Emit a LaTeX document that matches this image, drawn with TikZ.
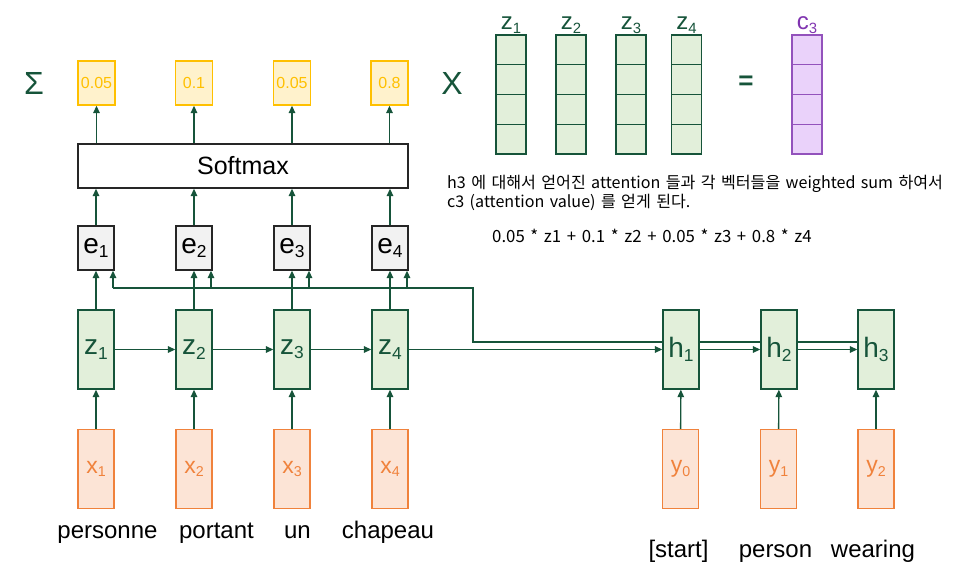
\documentclass[tikz,border=0pt]{standalone}
\usepackage{fontspec}
\setmainfont{Liberation Sans}
\newfontfamily\krfont{Noto Sans CJK KR}
\newfontfamily\krwide[WordSpace=1.5]{Noto Sans CJK KR}
\usetikzlibrary{arrows.meta,positioning}

\definecolor{encgreen}{RGB}{22,84,58}
\definecolor{encfill}{RGB}{226,239,218}
\definecolor{attnyellow}{RGB}{255,192,0}
\definecolor{attnfill}{RGB}{255,242,204}
\definecolor{wordorange}{RGB}{240,130,60}
\definecolor{wordfill}{RGB}{252,228,214}
\definecolor{ctxpurple}{RGB}{128,52,176}
\definecolor{ctxfill}{RGB}{234,210,250}
\definecolor{scorefill}{RGB}{242,242,242}

\newcommand{\tok}[2]{#1\raisebox{-0.15em}{\scalebox{0.62}{#2}}}

\begin{document}
\begin{tikzpicture}[x=1pt,y=-1pt,
    wire/.style={draw=encgreen,line width=1.4pt,-{Triangle[length=7.5pt,width=6.5pt]}},
    query/.style={draw=encgreen,line width=1.4pt},
    rnncell/.style={draw=encgreen,fill=encfill,text=encgreen,line width=1.3pt,minimum width=36pt,minimum height=79pt,inner sep=0pt,font=\fontsize{28}{30}\selectfont},
    wordcell/.style={rnncell,draw=wordorange,fill=wordfill,text=wordorange,font=\fontsize{23}{25}\selectfont},
    scorecell/.style={rnncell,draw=black!85,fill=scorefill,text=black,minimum height=44pt},
    weightcell/.style={rnncell,draw=attnyellow,fill=attnfill,text=attnyellow,minimum width=37pt,minimum height=44pt,font=\fontsize{16}{18}\selectfont},
    softbox/.style={draw=black!85,line width=1.3pt,minimum width=330pt,minimum height=44pt,font=\fontsize{25}{28}\selectfont},
    word/.style={anchor=base,font=\fontsize{24}{26}\selectfont},
    bigsym/.style={text=encgreen,font=\fontsize{32}{34}\selectfont},
    vecgreen/.style={draw=encgreen,fill=encfill,line width=1.3pt,minimum width=30pt,minimum height=29.75pt,inner sep=0pt},
    vecpurple/.style={vecgreen,draw=ctxpurple!85,fill=ctxfill},
    vectag/.style={anchor=south,text=encgreen,inner sep=1pt,font=\fontsize{24}{26}\selectfont},
    note/.style={anchor=north west,align=left,inner sep=0pt,font=\krfont\fontsize{16.1}{19}\selectfont}]
    \useasboundingbox (0,0) rectangle (962,568);

    % encoder
    \node[rnncell] (z1) at (96,349.5) {\tok{z}{1}};
    \node[rnncell] (z2) at (194,349.5) {\tok{z}{2}};
    \node[rnncell] (z3) at (292,349.5) {\tok{z}{3}};
    \node[rnncell] (z4) at (390,349.5) {\tok{z}{4}};
    \node[wordcell] (x1) at (96,469) {\tok{x}{1}};
    \node[wordcell] (x2) at (194,469) {\tok{x}{2}};
    \node[wordcell] (x3) at (292,469) {\tok{x}{3}};
    \node[wordcell] (x4) at (390,469) {\tok{x}{4}};
    \node[word] (src1) at (107.5,538) {personne};
    \node[word] (src2) at (216.5,538) {portant};
    \node[word] (src3) at (297.5,538) {un};
    \node[word] (src4) at (388,538) {chapeau};

    % scores and weights
    \node[scorecell] (e1) at (96,248) {\tok{e}{1}};
    \node[scorecell] (e2) at (194,248) {\tok{e}{2}};
    \node[scorecell] (e3) at (292,248) {\tok{e}{3}};
    \node[scorecell] (e4) at (390,248) {\tok{e}{4}};
    \node[softbox] (soft) at (243,166) {Softmax};
    \node[weightcell] (w1) at (96.5,83) {0.05};
    \node[weightcell] (w2) at (194,83) {0.1};
    \node[weightcell] (w3) at (292,83) {0.05};
    \node[weightcell] (w4) at (389.5,83) {0.8};
    \node[bigsym] (sigma) at (34,83.5) {Σ};
    \node[bigsym] (times) at (452,83) {X};
    \node[bigsym,font=\bfseries\fontsize{26}{28}\selectfont] (equals) at (746,83) {=};

    % decoder
    \node[rnncell] (h1) at (681,349.5) {\tok{h}{1}};
    \node[rnncell] (h2) at (779,349.5) {\tok{h}{2}};
    \node[rnncell] (h3) at (876,349.5) {\tok{h}{3}};
    \node[wordcell] (y0) at (680.5,469) {\tok{y}{0}};
    \node[wordcell] (y1) at (778.5,469) {\tok{y}{1}};
    \node[wordcell] (y2) at (876,469) {\tok{y}{2}};
    \node[word] (tgt0) at (678.5,557) {[start]};
    \node[word] (tgt1) at (775.5,557) {person};
    \node[word] (tgt2) at (873,557) {wearing};

    % weighted sum
    \foreach \cx/\vn in {511/vz1,571/vz2,631/vz3,686.5/vz4}
        \foreach \k in {0,1,2,3}
            \node[vecgreen] (\vn\k) at (\cx,{49.9+29.75*\k}) {};
    \foreach \k in {0,1,2,3}
        \node[vecpurple] (vc\k) at (807,{49.9+29.75*\k}) {};
    \node[vectag] at (vz10.north) {\tok{z}{1}};
    \node[vectag] at (vz20.north) {\tok{z}{2}};
    \node[vectag] at (vz30.north) {\tok{z}{3}};
    \node[vectag] at (vz40.north) {\tok{z}{4}};
    \node[vectag,text=ctxpurple] at (vc0.north) {\tok{c}{3}};
    \node[note] (expl) at (447,175) {h3 에 대해서 얻어진 attention 들과 각 벡터들을 weighted sum 하여서\\c3 (attention value) 를 얻게 된다.};
    \node[note,anchor=base west,font=\krwide\fontsize{16.8}{19}\selectfont] (wsum) at (492,242) {0.05 * z1 + 0.1 * z2 + 0.05 * z3 + 0.8 * z4};

    % connectors
    \draw[wire] (x1) -- (z1);
    \draw[wire] (x2) -- (z2);
    \draw[wire] (x3) -- (z3);
    \draw[wire] (x4) -- (z4);
    \draw[wire] (z1) -- (z2);
    \draw[wire] (z2) -- (z3);
    \draw[wire] (z3) -- (z4);
    \draw[wire] (z4) -- (h1);
    \draw[wire] (h1) -- (h2);
    \draw[wire] (h2) -- (h3);
    \draw[wire] (y0) -- (h1);
    \draw[wire] (y1) -- (h2);
    \draw[wire] (y2) -- (h3);
    \draw[wire] (z1) -- (e1);
    \draw[wire] (z2) -- (e2);
    \draw[wire] (z3) -- (e3);
    \draw[wire] (z4) -- (e4);
    \draw[wire] (e1) -- (e1 |- soft.south);
    \draw[wire] (e2) -- (e2 |- soft.south);
    \draw[wire] (e3) -- (e3 |- soft.south);
    \draw[wire] (e4) -- (e4 |- soft.south);
    \draw[wire] (w1 |- soft.north) -- (w1);
    \draw[wire] (w2 |- soft.north) -- (w2);
    \draw[wire] (w3 |- soft.north) -- (w3);
    \draw[wire] (w4 |- soft.north) -- (w4);

    % h3 back to the scores
    \coordinate (qturn) at (473,288);
    \draw[query] ([yshift=7.5pt]h3.west) -- ([yshift=7.5pt]h2.east)
        ([yshift=7.5pt]h2.west) -- ([yshift=7.5pt]h1.east)
        ([yshift=7.5pt]h1.west) -| (qturn) -- ([xshift=17pt]e1.south |- qturn);
    \draw[wire] ([xshift=17pt]e1.south |- qturn) -- ([xshift=17pt]e1.south);
    \draw[wire] ([xshift=17pt]e2.south |- qturn) -- ([xshift=17pt]e2.south);
    \draw[wire] ([xshift=17pt]e3.south |- qturn) -- ([xshift=17pt]e3.south);
    \draw[wire] ([xshift=17pt]e4.south |- qturn) -- ([xshift=17pt]e4.south);
\end{tikzpicture}
\end{document}
